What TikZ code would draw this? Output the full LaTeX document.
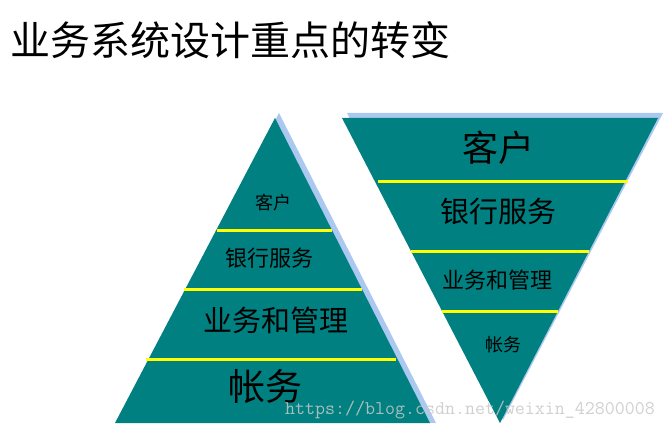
\documentclass[tikz,border=0pt]{standalone}
\usepackage{fontspec}
\usetikzlibrary{calc}
\newfontfamily\cjk{Noto Sans CJK SC}
\definecolor{tealfill}{RGB}{0,128,128}
\definecolor{shadowblue}{RGB}{170,200,240}
\definecolor{bandyellow}{RGB}{255,255,0}
\definecolor{wmgray}{RGB}{200,200,200}
\tikzset{
  tri/.style={fill=tealfill},
  trishadow/.style={fill=shadowblue},
  band/.style={draw=bandyellow, line width=3pt},
  lbl/.style={font=\cjk, text=black, inner sep=0pt, anchor=center},
}
\begin{document}
\begin{tikzpicture}[x=1pt,y=-1pt]
\useasboundingbox (0,0) rectangle (666,430);
\fill[white] (0,0) rectangle (666,430);
% title
\node[font=\cjk\fontsize{40}{41}\selectfont, anchor=west, inner sep=0pt] (title) at (10,40) {业务系统设计重点的转变};
% left pyramid
\coordinate (LA) at (275,118);
\coordinate (LB) at (115,423);
\coordinate (LC) at (430,423);
\fill[trishadow] ($(LA)+(4,-5)$) -- ($(LB)+(4,-5)$) -- ($(LC)+(6,0)$) -- cycle;
\fill[tri] (LA) -- (LB) -- (LC) -- cycle;
\coordinate (l1a) at (217,231); \coordinate (l1b) at (332,231);
\coordinate (l2a) at (184,289); \coordinate (l2b) at (362,289);
\coordinate (l3a) at (146,359); \coordinate (l3b) at (396,359);
\draw[band] (l1a) -- (l1b);
\draw[band] (l2a) -- (l2b);
\draw[band] (l3a) -- (l3b);
\node[lbl, font=\cjk\fontsize{18}{18}\selectfont] (lk) at (273,203) {客户};
\node[lbl, font=\cjk\fontsize{22}{22}\selectfont] (ly) at (269,258) {银行服务};
\node[lbl, font=\cjk\fontsize{29}{29}\selectfont] (lw) at (276,320) {业务和管理};
\node[lbl, font=\cjk\fontsize{37}{37}\selectfont] (lz) at (265,387) {帐务};
% right inverted pyramid
\coordinate (RA) at (342,118);
\coordinate (RB) at (658,118);
\coordinate (RC) at (500,423);
\fill[trishadow] ($(RA)+(5,-5)$) -- ($(RB)+(5,-5)$) -- ($(RC)+(3,-3)$) -- cycle;
\fill[tri] (RA) -- (RB) -- (RC) -- cycle;
\coordinate (r1a) at (378,182); \coordinate (r1b) at (628,182);
\coordinate (r2a) at (411,252); \coordinate (r2b) at (589,252);
\coordinate (r3a) at (442,311); \coordinate (r3b) at (558,311);
\draw[band] (r1a) -- (r1b);
\draw[band] (r2a) -- (r2b);
\draw[band] (r3a) -- (r3b);
\node[lbl, font=\cjk\fontsize{36}{36}\selectfont] (rk) at (498,148) {客户};
\node[lbl, font=\cjk\fontsize{29}{29}\selectfont] (ry) at (498,212) {银行服务};
\node[lbl, font=\cjk\fontsize{22}{22}\selectfont] (rw) at (497,280) {业务和管理};
\node[lbl, font=\cjk\fontsize{18}{18}\selectfont] (rz) at (503,345) {帐务};
% watermark
\node[font=\ttfamily\fontsize{19.4}{19.4}\selectfont, text=wmgray, text opacity=0.85, anchor=west, inner sep=0pt] (wm) at (285,410) {https://blog.csdn.net/weixin\_42800008};
\end{tikzpicture}
\end{document}
